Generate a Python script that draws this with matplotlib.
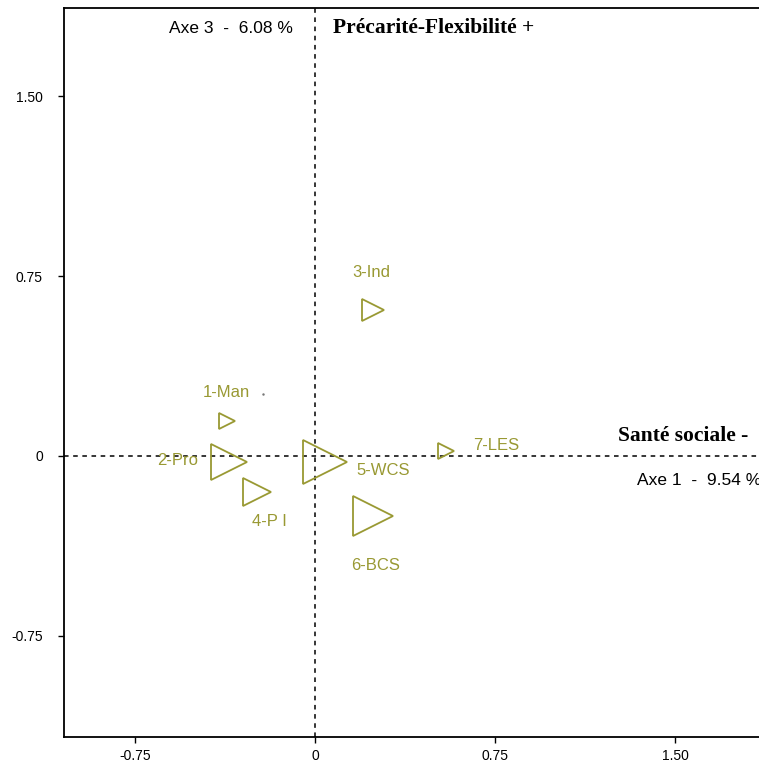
'''
factor map (axes 1 x 3) with weighted right-pointing triangles
'''

import matplotlib
matplotlib.use('Agg')
import matplotlib.pyplot as plt

labels = ['1-Man', '2-Pro', '3-Ind', '4-P I', '5-WCS', '6-BCS', '7-LES']
axe1 = [-0.365, -0.36, 0.24, -0.24, 0.04, 0.24, 0.546]
axe3 = [0.144, -0.025, 0.61, -0.15, -0.025, -0.25, 0.021]
weights = [12.2, 26, 16.5, 20, 31, 29, 11.5]   # marker size ~ weight

extra_x = [-0.217]
extra_y = [0.258]

xticks = [-0.75, 0, 0.75, 1.50]
xticklabels = ['-0.75', '0', '0.75', '1.50']
yticks = [-0.75, 0, 0.75, 1.50]
yticklabels = ['-0.75', '0', '0.75', '1.50']

col = '#999933'
plt.rcParams['font.family'] = ['Liberation Sans', 'DejaVu Sans']
serif = ['Liberation Serif', 'DejaVu Serif']

fig = plt.figure(figsize=(7.59, 7.65), dpi=100)
ax = fig.add_axes([0.0847, 0.0366, 0.9153, 0.9529])
ax.set_xlim(-1.0446, 1.85)
ax.set_ylim(-1.171, 1.8667)

ax.axhline(0, color='black', lw=1.1, ls=(0, (3, 3)), zorder=1)
ax.axvline(0, color='black', lw=1.1, ls=(0, (3, 3)), zorder=1)

# offsets of the labels, in points
offs = [(-1, 21), (-37, 1), (-1, 27), (9, -21), (42, -6), (2, -36), (36, 4)]

for x, y, w, lab, o in zip(axe1, axe3, weights, labels, offs):
    ax.plot(x, y, marker='>', ms=w, mfc='none', mec=col, mew=1.3, ls='none', zorder=3)
    ax.annotate(lab, (x, y), xytext=o, textcoords='offset points',
                ha='center', va='center', color=col, fontsize=12)

ax.plot(extra_x, extra_y, marker='.', ms=1.5, color='#777777', ls='none')

ax.text(-0.092, 1.783, 'Axe 3  -  6.08 %', ha='right', va='center', fontsize=12.5)
ax.text(0.075, 1.783, 'Précarité-Flexibilité +', ha='left', va='center',
        fontsize=15.5, fontweight='bold', family=serif)
ax.text(1.2625, 0.083, 'Santé sociale -', ha='left', va='center',
        fontsize=15.5, fontweight='bold', family=serif)
ax.text(1.342, -0.104, 'Axe 1  -  9.54 %', ha='left', va='center', fontsize=12.5)

ax.set_xticks(xticks)
ax.set_xticklabels(xticklabels)
ax.set_yticks(yticks)
ax.set_yticklabels(yticklabels)
ax.tick_params(axis='x', direction='out', length=4.5, width=1, labelsize=10, pad=4)
ax.tick_params(axis='y', direction='out', length=4.5, width=1, labelsize=10, pad=11)

ax.spines['right'].set_visible(False)
for s in ['left', 'bottom', 'top']:
    ax.spines[s].set_linewidth(1.3)

plt.savefig('out.png', dpi=100)
